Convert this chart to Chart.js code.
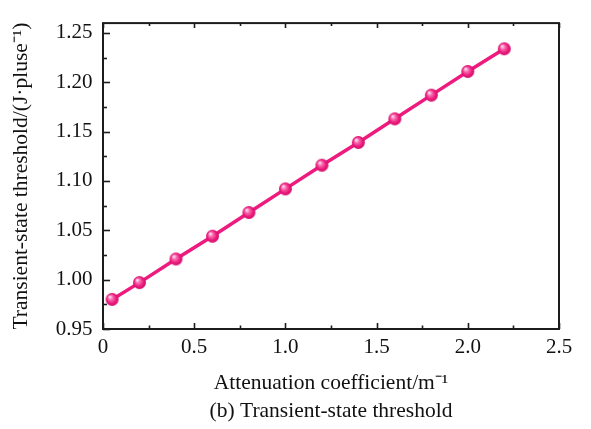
<!DOCTYPE html>
<html>
<head>
<meta charset="utf-8">
<script src="https://cdn.jsdelivr.net/npm/chart.js@4/dist/chart.umd.min.js"></script>
<style>
  html, body { margin: 0; padding: 0; background: #ffffff; }
  #wrap { width: 591px; height: 429px; }
</style>
</head>
<body>
<div id="wrap"><canvas id="chart" width="591" height="429"></canvas></div>
<script>
// Attenuation coefficient (m^-1) and transient-state threshold (J·pulse^-1)
const attenuation = [0.05, 0.2, 0.4, 0.6, 0.8, 1.0, 1.2, 1.4, 1.6, 1.8, 2.0, 2.2];
const threshold   = [0.980, 0.997, 1.021, 1.044, 1.068, 1.092, 1.116, 1.139, 1.163, 1.187, 1.211, 1.234];

// Axis tick values and their labels
const xTickValues = [0, 0.5, 1.0, 1.5, 2.0, 2.5];
const xTickLabels = ['0', '0.5', '1.0', '1.5', '2.0', '2.5'];
const yTickValues = [0.95, 1.00, 1.05, 1.10, 1.15, 1.20, 1.25];
const yTickLabels = ['0.95', '1.00', '1.05', '1.10', '1.15', '1.20', '1.25'];

const xTitle = 'Attenuation coefficient/m\u207B\u00B9';
const yTitle = 'Transient-state threshold/(J\u00B7pluse\u207B\u00B9)';
const caption = '(b) Transient-state threshold';

const FONT = '"Liberation Serif", "Times New Roman", serif';
const LINE_COLOR = '#ee1a7e';
const FRAME_COLOR = '#1c1c1c';
const TEXT_COLOR = '#111111';

// Glossy sphere marker
function makeSphere(r) {
  const size = Math.ceil(r * 2 + 2);
  const c = document.createElement('canvas');
  c.width = size; c.height = size;
  const g = c.getContext('2d');
  const cx = size / 2, cy = size / 2;
  const grad = g.createRadialGradient(cx - r * 0.35, cy - r * 0.4, r * 0.1, cx, cy, r);
  grad.addColorStop(0, '#ffd6ea');
  grad.addColorStop(0.3, '#f868ae');
  grad.addColorStop(0.7, '#ec1a7c');
  grad.addColorStop(1, '#d0106a');
  g.fillStyle = grad;
  g.beginPath();
  g.arc(cx, cy, r, 0, Math.PI * 2);
  g.fill();
  return c;
}
const sphere = makeSphere(6.5);

// Frame and inward tick marks
const framePlugin = {
  id: 'frame',
  afterDatasetsDraw(chart) {
    const { ctx, chartArea: a, scales: { x, y } } = chart;
    ctx.save();
    ctx.strokeStyle = FRAME_COLOR;
    ctx.lineWidth = 1.6;
    // minor/major ticks on the x axis (bottom and top)
    for (let i = 0; i <= 10; i++) {
      const v = i * 0.25;
      const px = Math.round(x.getPixelForValue(v)) + 0.5;
      const major = i % 2 === 0;
      const lb = major ? 6 : 3.5;
      const lt = major ? 5 : 3;
      ctx.beginPath();
      ctx.moveTo(px, a.bottom); ctx.lineTo(px, a.bottom - lb);
      ctx.moveTo(px, a.top); ctx.lineTo(px, a.top + lt);
      ctx.stroke();
    }
    // minor/major ticks on the y axis (left)
    for (let i = 0; i <= 12; i++) {
      const v = 0.95 + i * 0.025;
      const py = Math.round(y.getPixelForValue(v)) + 0.5;
      const len = i % 2 === 0 ? 7 : 4;
      ctx.beginPath();
      ctx.moveTo(a.left, py); ctx.lineTo(a.left + len, py);
      ctx.stroke();
    }
    ctx.lineWidth = 2;
    ctx.strokeRect(a.left, a.top, a.right - a.left, a.bottom - a.top);
    ctx.restore();
  }
};

new Chart(document.getElementById('chart'), {
  type: 'line',
  data: {
    datasets: [{
      data: attenuation.map((v, i) => ({ x: v, y: threshold[i] })),
      borderColor: LINE_COLOR,
      backgroundColor: LINE_COLOR,
      borderWidth: 3.5,
      pointStyle: sphere,
      pointRadius: 6.5,
      pointHoverRadius: 6.5,
      tension: 0,
      fill: false
    }]
  },
  options: {
    responsive: false,
    animation: false,
    devicePixelRatio: 1,
    layout: { padding: { left: 0, top: 14, right: 32, bottom: 0 } },
    plugins: {
      legend: { display: false },
      tooltip: { enabled: false },
      title: {
        display: true,
        position: 'bottom',
        fullSize: false,
        text: caption,
        color: TEXT_COLOR,
        font: { family: FONT, size: 21.5, weight: 'normal', lineHeight: 1.2 },
        padding: { top: 0, bottom: 4.5 }
      }
    },
    scales: {
      x: {
        type: 'linear',
        min: 0,
        max: 2.5,
        afterBuildTicks(scale) { scale.ticks = xTickValues.map(v => ({ value: v })); },
        afterFit(scale) { scale.height = 69.7; },
        grid: { display: false, drawTicks: false },
        border: { display: false },
        ticks: {
          padding: 6,
          color: TEXT_COLOR,
          font: { family: FONT, size: 21 },
          maxRotation: 0,
          callback(v) { const i = xTickValues.indexOf(v); return i >= 0 ? xTickLabels[i] : ''; }
        },
        title: {
          display: true,
          text: xTitle,
          color: TEXT_COLOR,
          font: { family: FONT, size: 21.5, lineHeight: 1.2 },
          padding: { top: 0, bottom: 2.8 }
        }
      },
      y: {
        type: 'linear',
        min: 0.95,
        max: 1.26,
        afterBuildTicks(scale) { scale.ticks = yTickValues.map(v => ({ value: v })); },
        afterFit(scale) { scale.width = 103; },
        grid: { display: false, drawTicks: false },
        border: { display: false },
        ticks: {
          padding: 10.5,
          color: TEXT_COLOR,
          font: { family: FONT, size: 21 },
          callback(v) {
            const i = yTickValues.findIndex(t => Math.abs(t - v) < 1e-9);
            return i >= 0 ? yTickLabels[i] : '';
          }
        },
        title: {
          display: true,
          text: yTitle,
          color: TEXT_COLOR,
          font: { family: FONT, size: 21.5, lineHeight: 1.2 },
          padding: { top: 8, bottom: 0 }
        }
      }
    }
  },
  plugins: [framePlugin]
});
</script>
</body>
</html>
